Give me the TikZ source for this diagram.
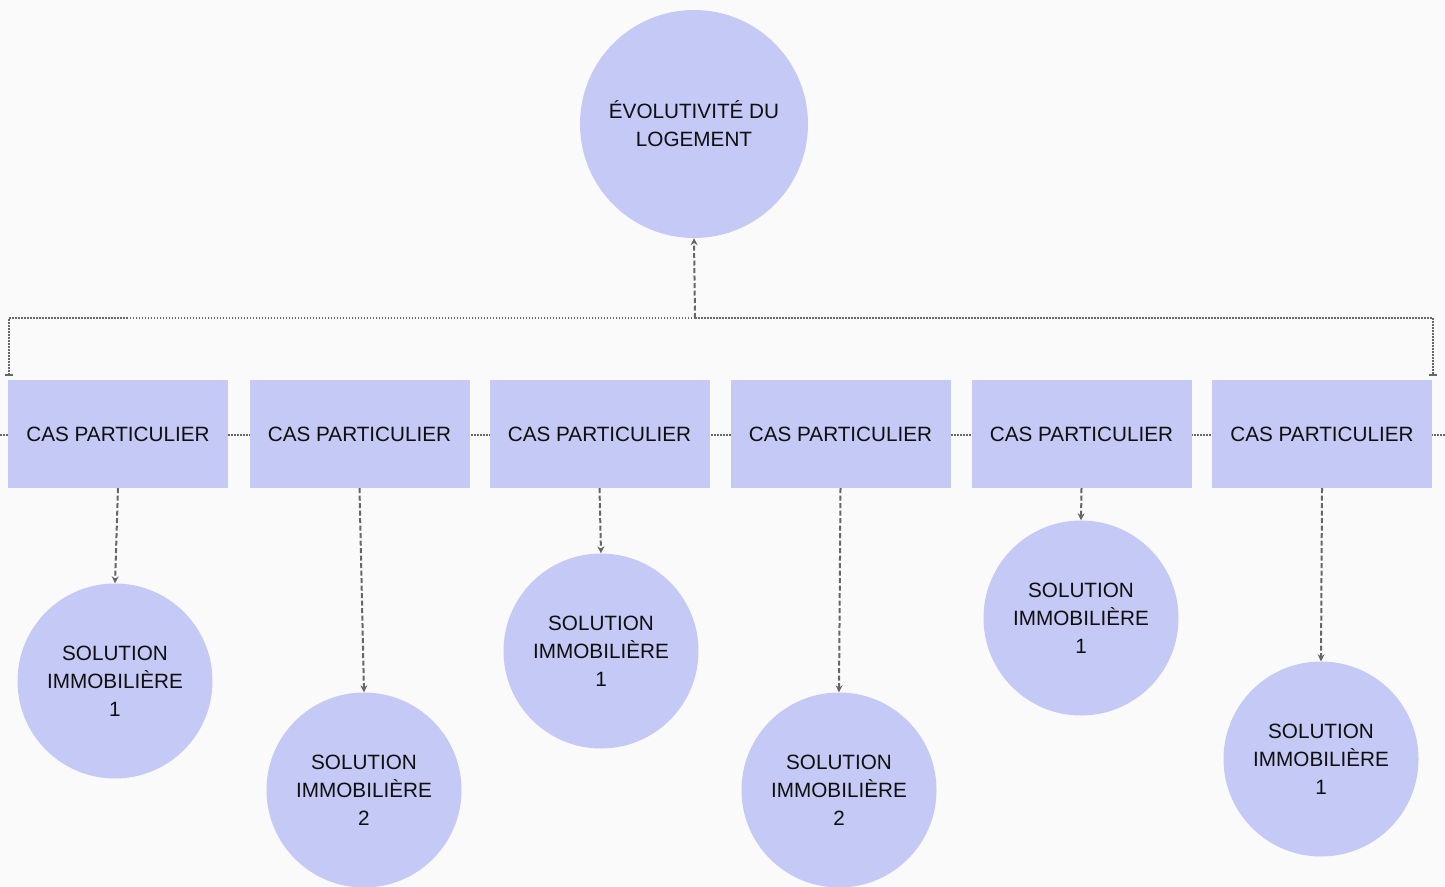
\documentclass[tikz,border=0pt]{standalone}
\usepackage{fontspec}
\setmainfont{Liberation Sans}
\usetikzlibrary{arrows.meta}
\definecolor{bg}{HTML}{FAFAFA}
\definecolor{lav}{HTML}{C5C9F5}
\definecolor{ln}{HTML}{666666}
\definecolor{tx}{HTML}{0F0F0F}
\begin{document}
\begin{tikzpicture}[x=1pt,y=-1pt,
  every node/.style={font=\fontsize{20.7}{28}\selectfont, text=tx, align=center, inner sep=0pt},
  bigcirc/.style={circle, fill=lav, minimum size=228pt},
  solcirc/.style={circle, fill=lav, minimum size=195pt},
  casebox/.style={rectangle, fill=lav, minimum width=220pt, minimum height=108pt},
  dotline/.style={draw=ln, line width=1.6pt, dash pattern=on 1.5pt off 1.5pt},
  dasharrow/.style={draw=ln, line width=2pt, dash pattern=on 5pt off 2.5pt, -{Stealth[length=7pt,width=7pt]}}
]
\fill[bg] (0,0) rectangle (1445,886);
\useasboundingbox (0,0) rectangle (1445,886);
% background dotted line through the boxes
\coordinate (L) at (0,435);
\coordinate (R) at (1445,435);
\draw[dotline] (L) -- (R);
% nodes
\node[bigcirc] (top) at (694,124) {ÉVOLUTIVITÉ DU\\LOGEMENT};
\node[casebox] (b1) at (118,434) {CAS PARTICULIER};
\node[casebox] (b2) at (359.5,434) {CAS PARTICULIER};
\node[casebox] (b3) at (599.5,434) {CAS PARTICULIER};
\node[casebox] (b4) at (840.5,434) {CAS PARTICULIER};
\node[casebox] (b5) at (1081.5,434) {CAS PARTICULIER};
\node[casebox] (b6) at (1322,434) {CAS PARTICULIER};
\node[solcirc] (s1) at (115,681) {SOLUTION\\IMMOBILIÈRE\\1};
\node[solcirc] (s2) at (364,790) {SOLUTION\\IMMOBILIÈRE\\2};
\node[solcirc] (s3) at (601,651) {SOLUTION\\IMMOBILIÈRE\\1};
\node[solcirc] (s4) at (839,790) {SOLUTION\\IMMOBILIÈRE\\2};
\node[solcirc] (s5) at (1081,618) {SOLUTION\\IMMOBILIÈRE\\1};
\node[solcirc] (s6) at (1321,759) {SOLUTION\\IMMOBILIÈRE\\1};
% bracket
\coordinate (J) at (695,318);
\coordinate (bl) at (9,376);
\coordinate (br) at (1433,376);
\draw[dotline, -{Bar[width=8pt,line width=1.6pt]}] (J) -| (bl);
\draw[dotline, -{Bar[width=8pt,line width=1.6pt]}] (J) -| (br);
\draw[dasharrow] (J) -- (top.south);
% arrows to solutions
\foreach \i in {1,...,6}{
  \draw[dasharrow] (b\i.south) -- (s\i.north);
}
\end{tikzpicture}
\end{document}
